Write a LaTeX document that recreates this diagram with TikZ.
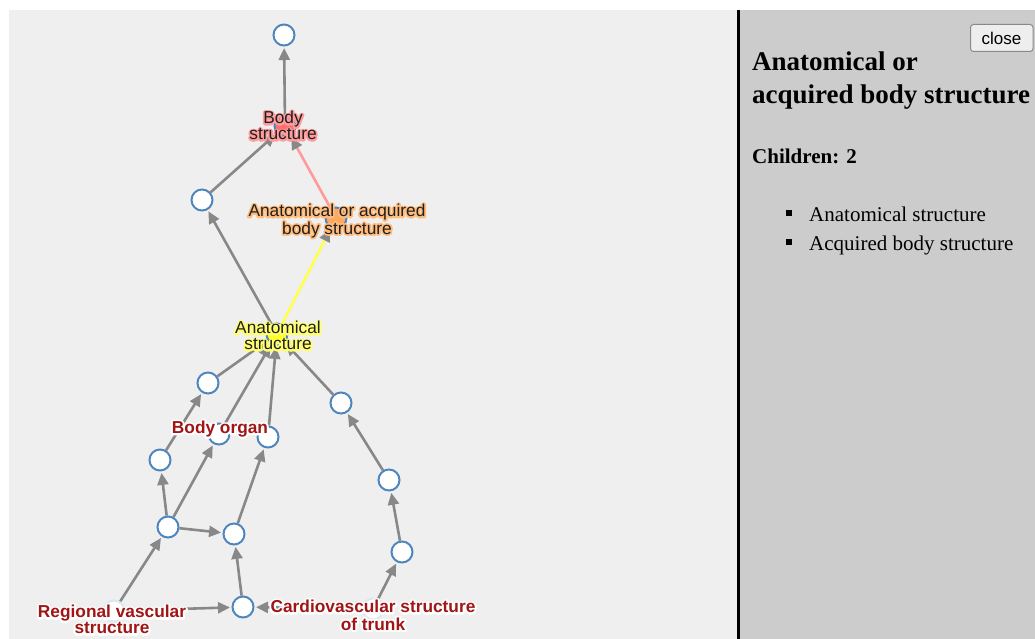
\documentclass[tikz,border=0pt]{standalone}
\usepackage{fontspec}
\setmainfont{Liberation Serif}
\newfontfamily\arialf{Liberation Sans}
\usetikzlibrary{arrows.meta}
\pgfdeclarelayer{bglayer}
\pgfdeclarelayer{edges}
\pgfsetlayers{bglayer,edges,main}
\definecolor{bgleft}{HTML}{EFEFEF}
\definecolor{bgpanel}{HTML}{CCCCCC}
\definecolor{edgegray}{HTML}{888888}
\definecolor{nodeblue}{HTML}{4F86BE}
\definecolor{pinkedge}{HTML}{FF9A9A}
\definecolor{yellowedge}{HTML}{FFFF50}
\definecolor{bsfill}{HTML}{FF7070}
\definecolor{aofill}{HTML}{FFA860}
\definecolor{anfill}{HTML}{FFFF20}
\definecolor{bshalo}{HTML}{FF9C9C}
\definecolor{aohalo}{HTML}{FFBC7C}
\definecolor{anhalo}{HTML}{FFFF70}
\definecolor{labred}{HTML}{A01515}
\definecolor{labblack}{HTML}{202020}
\definecolor{btnfill}{HTML}{EEEEEE}
\definecolor{btnline}{HTML}{8A8A8A}
\newsavebox\mytxtbox
\newsavebox\myhalobox
\newcommand\halotext[4][3.5]{%
  \sbox\myhalobox{\special{pdf:literal direct 2 Tr #1 w 1 j 1 J}\color{#2}#4\special{pdf:literal direct 0 Tr}}%
  \sbox\mytxtbox{\color{#3}#4}%
  \rlap{\usebox\myhalobox}\usebox\mytxtbox}
\newcommand\twol[2]{\begin{tabular}{@{}c@{}}#1\\#2\end{tabular}}
\tikzset{
  gnode/.style={circle, draw=nodeblue, fill=white, line width=2pt, minimum size=21pt, inner sep=0pt},
  hidnode/.style={gnode, draw=nodeblue!20},
  edge/.style={draw=edgegray, line width=2.6pt, shorten >=1.5pt, -{Triangle[length=12pt,width=11pt,color=edgegray]}},
  lbl/.style={inner sep=0pt, font=\arialf\fontsize{17.3}{16}\selectfont},
  rlbl/.style={inner sep=0pt, font=\arialf\bfseries\fontsize{17.3}{16}\selectfont},
  ptext/.style={inner sep=0pt, anchor=base west}
}
\begin{document}
\begin{tikzpicture}[x=1pt,y=-1pt]
\useasboundingbox (0,0) rectangle (1035,639);
\begin{pgfonlayer}{bglayer}
\fill[white] (0,0) rectangle (1035,639);
\fill[bgleft] (9,10) rectangle (737,639);
\fill[bgpanel] (740,10) rectangle (1035,639);
\fill[black] (737,10) rectangle (740,639);
\end{pgfonlayer}
% nodes
\node[gnode] (ntop) at (284,35) {};
\node[gnode, fill=bsfill] (bs) at (285,126) {};
\node[gnode] (nl1) at (202,200) {};
\node[gnode, fill=aofill] (aoabs) at (336,218) {};
\node[gnode, fill=anfill] (anat) at (277,334) {};
\node[gnode] (na) at (208,383) {};
\node[gnode] (nb) at (341,403) {};
\node[gnode] (borg) at (219,434) {};
\node[gnode] (nc) at (268,437) {};
\node[gnode] (nd) at (160,460) {};
\node[gnode] (ng) at (389,480) {};
\node[gnode] (ne) at (168,527) {};
\node[gnode] (nf) at (234,534) {};
\node[gnode] (nh) at (402,552) {};
\node[gnode] (ni) at (243,607) {};
\node[hidnode] (rvs) at (114,611) {};
\node[hidnode] (cvt) at (373,609) {};
% edges
\begin{pgfonlayer}{edges}
\draw[edge] (bs) -- (ntop);
\draw[edge] (nl1) -- (bs);
\draw[edge, draw=pinkedge] (aoabs) -- (bs);
\draw[edge] (anat) -- (nl1);
\draw[edge, draw=yellowedge] (anat) -- (aoabs);
\draw[edge] (na) -- (anat);
\draw[edge] (borg) -- (anat);
\draw[edge] (nc) -- (anat);
\draw[edge] (nb) -- (anat);
\draw[edge] (nd) -- (na);
\draw[edge] (ne) -- (nd);
\draw[edge] (ne) -- (borg);
\draw[edge] (ne) -- (nf);
\draw[edge] (nf) -- (nc);
\draw[edge] (ni) -- (nf);
\draw[edge] (rvs) -- (ne);
\draw[edge] (rvs) -- (ni);
\draw[edge] (cvt) -- (ni);
\draw[edge] (cvt) -- (nh);
\draw[edge] (nh) -- (ng);
\draw[edge] (ng) -- (nb);
\end{pgfonlayer}
% labels
\node[lbl] (bslab) at (283,128) {\halotext{bshalo}{labblack}{\twol{Body}{structure}}};
\node[lbl] (aolab) at (337,221.5) {\halotext{aohalo}{labblack}{\twol{Anatomical or acquired}{body structure}}};
\node[lbl] (anlab) at (278,338) {\halotext{anhalo}{labblack}{\twol{Anatomical}{structure}}};
\node[rlbl] (bolab) at (220,429) {\halotext[4]{white}{labred}{Body organ}};
\node[rlbl] (rvlab) at (112,622) {\halotext[4]{white}{labred}{\twol{Regional vascular}{structure}}};
\node[rlbl] (cvlab) at (373,617.5) {\halotext[4]{white}{labred}{\twol{Cardiovascular structure}{of trunk}}};
% panel
\draw[btnline, fill=btnfill, line width=1pt, rounded corners=3pt] (970.5,24.5) rectangle (1033,51.5);
\node[inner sep=0pt, font=\arialf\fontsize{17}{17}\selectfont] (closebtn) at (1001.5,38) {close};
\node[ptext, font=\bfseries\fontsize{27}{33}\selectfont] (h1) at (752,71) {Anatomical or};
\node[ptext, font=\bfseries\fontsize{27}{33}\selectfont] (h2) at (752,104) {acquired body structure};
\node[ptext, font=\bfseries\fontsize{21}{25}\selectfont] (ch) at (752,164) {Children: 2};
\node[ptext, font=\fontsize{21}{25}\selectfont] (it1) at (809,221) {Anatomical structure};
\node[ptext, font=\fontsize{21}{25}\selectfont] (it2) at (809,250) {Acquired body structure};
\fill[black] (786,210) rectangle (792,216);
\fill[black] (786,239) rectangle (792,245);
\end{tikzpicture}
\end{document}
